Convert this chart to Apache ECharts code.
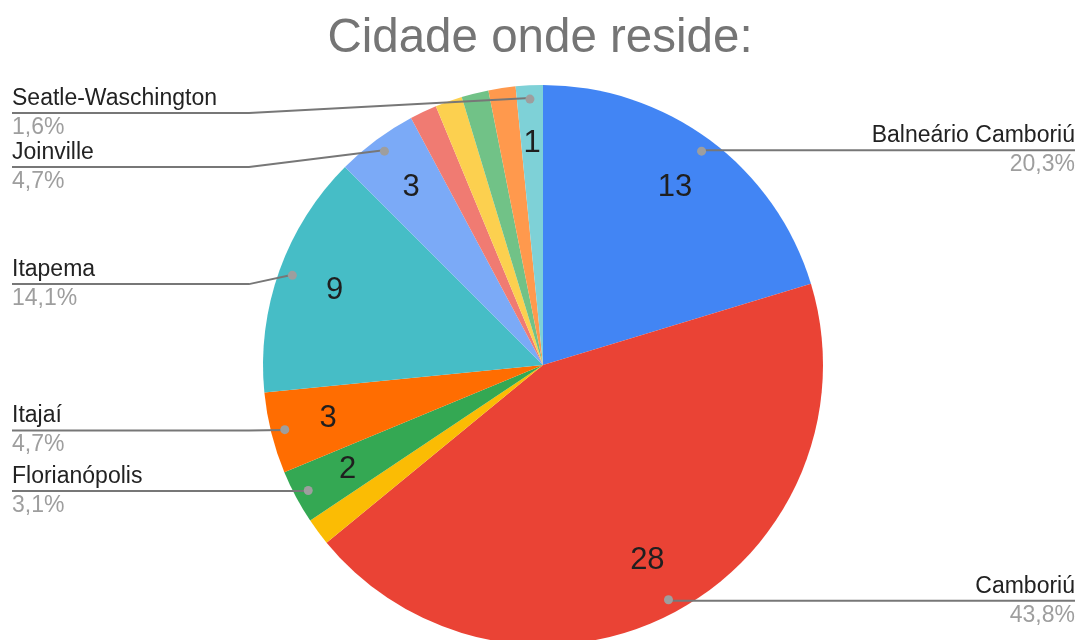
<!DOCTYPE html>
<html><head><meta charset="utf-8">
<script src="https://cdn.jsdelivr.net/npm/echarts@6/dist/echarts.min.js"></script>
<style>html,body{margin:0;padding:0;background:#fff}#c{width:1080px;height:640px}</style>
</head><body><div id="c"></div>
<script>
const titleText = 'Cidade onde reside:';
const cities = ['Balneário Camboriú', 'Camboriú', 'Outra cidade 1', 'Florianópolis', 'Itajaí', 'Itapema', 'Joinville', 'Outra cidade 2', 'Outra cidade 3', 'Outra cidade 4', 'Outra cidade 5', 'Seatle-Waschington'];
const counts = [13, 28, 1, 2, 3, 9, 3, 1, 1, 1, 1, 1];
const colors = ['#4285F4', '#EA4335', '#FBBC04', '#34A853', '#FF6D01', '#46BDC6', '#7BAAF7', '#F07B72', '#FCD04F', '#71C287', '#FF994D', '#7ED1D7'];
const labeled = [true, true, false, true, true, true, true, false, false, false, false, true];

const total = counts.reduce((a, b) => a + b, 0);
const pct = v => (v / total * 100).toFixed(1).replace('.', ',') + '%';

const FONT = 'Liberation Sans, Arial, sans-serif';
const CX = 543, TOP = 86, CY = 365, R = 280;
const box = { left: 0, right: 0, top: TOP, bottom: 0 };
const clear = 'rgba(0,0,0,0)';

function data(transparent) {
  return cities.map((n, i) => ({
    name: n, value: counts[i],
    itemStyle: { color: transparent ? clear : colors[i] },
    label: { show: labeled[i] },
    labelLine: { show: labeled[i] }
  }));
}
const base = Object.assign({
  type: 'pie', center: [CX, CY - TOP], startAngle: 90, clockwise: true,
  silent: true, emphasis: { disabled: true }, itemStyle: { borderWidth: 0 }
}, box);

const chart = echarts.init(document.getElementById('c'));
chart.setOption({
  animation: false,
  backgroundColor: '#fff',
  title: {
    text: titleText, left: 'center', top: 10,
    textStyle: { color: '#757575', fontSize: 47.5, fontWeight: 'normal', fontFamily: FONT }
  },
  series: [
    Object.assign({}, base, {
      name: 'fatias', radius: [0, R], z: 1,
      data: data(false).map(d => Object.assign(d, { label: { show: false }, labelLine: { show: false } }))
    }),
    Object.assign({}, base, {
      name: 'numeros', radius: [R * 0.56, R], z: 2,
      label: { position: 'inside', formatter: '{c}', fontSize: 31, color: '#1f1f1f', fontFamily: FONT },
      labelLine: { show: false },
      data: data(true)
    }),
    Object.assign({}, base, {
      name: 'rotulos', radius: [0, R * 0.955], z: 3,
      avoidLabelOverlap: true,
      label: {
        position: 'outside', alignTo: 'edge', edgeDistance: 12,
        formatter: p => '{n|' + p.name + '}\n{p|' + pct(p.value) + '}',
        rich: {
          n: { fontSize: 23, color: '#222222', lineHeight: 29, fontFamily: FONT },
          p: { fontSize: 23, color: '#9e9e9e', lineHeight: 29, fontFamily: FONT }
        }
      },
      labelLine: { length: 0, length2: 0, lineStyle: { color: '#777777', width: 2 } },
      labelLayout: function (params) {
        const pts = params.labelLinePoints;
        if (!pts) return {};
        const r = params.labelRect;
        const isLeft = r.x + r.width / 2 < CX;
        const y = r.y + r.height / 2;
        const dx = isLeft ? 0 : 7;
        const bendX = isLeft ? CX - 1.05 * R : CX + 1.05 * R;
        const endX = isLeft ? r.x : r.x + r.width + dx;
        const p0 = pts[0];
        const p1 = [isLeft ? Math.min(p0[0], bendX) : Math.max(p0[0], bendX), y];
        return { dx: dx, labelLinePoints: [p0, p1, [endX, y]] };
      },
      data: data(true)
    }),
    Object.assign({}, base, {
      name: 'pontos', radius: [R * 0.9, R * 0.98], z: 4,
      label: {
        position: 'inside', formatter: '{d|}',
        rich: { d: { width: 9, height: 9, lineHeight: 9, borderRadius: 4.5, backgroundColor: '#9e9e9e' } }
      },
      labelLine: { show: false },
      data: data(true)
    })
  ]
});
</script>
</body></html>
